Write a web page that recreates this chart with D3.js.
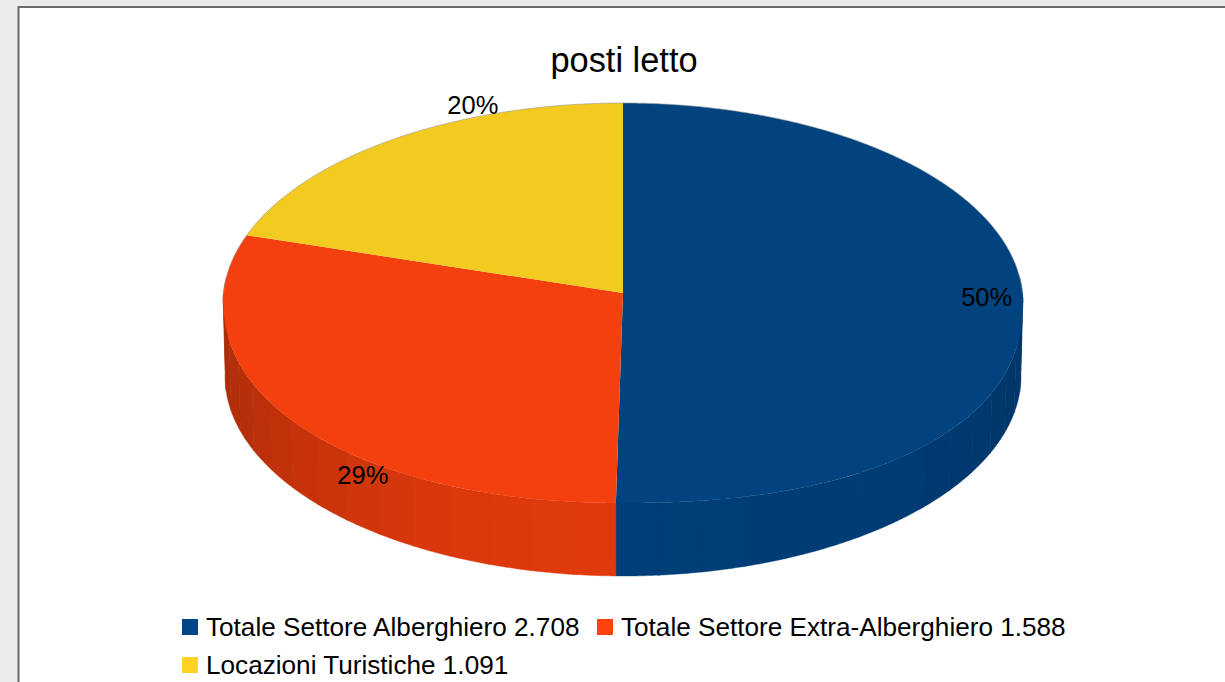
<!DOCTYPE html>
<html><head><meta charset="utf-8">
<script src="https://cdnjs.cloudflare.com/ajax/libs/d3/7.8.5/d3.min.js"></script>
<style>html,body{margin:0;padding:0;background:#ebebeb;overflow:hidden}svg{display:block}text{font-family:"Liberation Sans",Arial,sans-serif;fill:#000}</style>
</head><body><svg id="c" width="1225" height="682"></svg>
<script>
const categories=["Totale Settore Alberghiero 2.708","Totale Settore Extra-Alberghiero 1.588","Locazioni Turistiche 1.091"];
const values=[2708,1588,1091];
const percentLabels=["50%","29%","20%"];
const title="posti letto";
const topColors=["#01437f","#f4400e","#f2ca20"];
const legendColors=["#004586","#ff420e","#ffd320"];

const svg=d3.select("#c");
svg.append("rect").attr("x",18).attr("y",6).attr("width",1207).attr("height",676).attr("fill","#fff");
svg.append("path").attr("d","M18.5,682V7H1225").attr("fill","none").attr("stroke","#6a6a6a").attr("stroke-width",2);

// perspective disc -> screen
const sx=d3.scaleLinear().domain([-1,1]).range([223.5,1022.5]);
const sy=d3.scaleLinear().domain([-1,1]).range([103,503]);
const persp=-0.05, cy0=-0.05;
function project(a,depth){
  const u=Math.sin(a),v=-Math.cos(a),w=1+persp*v;
  const k=depth?0.995:1;
  const px=u/w*k;
  let py=(v+cy0)/w;
  if(!depth&&py>0){
    const e=Math.min(1,Math.abs(px));
    const p=px>0?2.25:2.1;
    py=Math.pow(1-Math.pow(e,p),1/p);
  }
  return [sx(px),sy(py)+(depth?73:0)];
}
function apex(){return [sx(0),sy(cy0)];}
const arcs=d3.pie().sort(null).value(d=>d)(values);
const line=d3.line();
const sample=(a0,a1,step)=>{const n=Math.max(1,Math.ceil((a1-a0)/step));return d3.range(n+1).map(i=>a0+(a1-a0)*i/n);};

// side wall, drawn as shaded facets
const wallStep=Math.PI/30;
const base=legendColors;
arcs.forEach((s,i)=>{
  const a0=Math.max(s.startAngle,Math.PI/2-0.08), a1=Math.min(s.endAngle,3*Math.PI/2+0.08);
  if(a1<=a0) return;
  const t=sample(a0,a1,wallStep);
  for(let j=0;j<t.length-1;j++){
    const m=(t[j]+t[j+1])/2;
    const low=m<Math.PI?0.78:0.67;
    const high=m<Math.PI?0.9:0.88;
    const f=low+(high-low)*Math.abs(Math.cos(m))**1.5;
    const c=d3.rgb(base[i]);
    const col=d3.rgb(c.r*f,c.g*f,c.b*f);
    const pts=sample(t[j],t[j+1]+0.002,0.01);
    const path=[...pts.map(a=>project(a,false)),...pts.slice().reverse().map(a=>project(a,true))];
    svg.append("path").attr("d",line(path)+"Z").attr("fill",col.formatHex()).attr("stroke",col.formatHex()).attr("stroke-width",0.4);
  }
});
// top face
arcs.forEach((s,i)=>{
  const pts=sample(s.startAngle,s.endAngle,0.005).map(a=>project(a,false));
  svg.append("path").attr("d",line([apex(),...pts])+"Z").attr("fill",topColors[i]);
});
// thin grey back edge
svg.append("path").attr("d",line(sample(-Math.PI/2,Math.PI/2,0.01).map(a=>project(a,false))))
  .attr("fill","none").attr("stroke","#9a9a9a").attr("stroke-width",0.6);

// labels, anchored to the rim at each slice's mid angle
const labelShift=[[-36,2],[73,61],[78,-34]];
arcs.forEach((s,i)=>{
  const a=(s.startAngle+s.endAngle)/2;
  const p=[sx(Math.sin(a)/(1-persp*Math.cos(a))),sy((-Math.cos(a)+cy0)/(1-persp*Math.cos(a)))];
  svg.append("text").attr("x",p[0]+labelShift[i][0]).attr("y",p[1]+labelShift[i][1]+9)
    .attr("text-anchor","middle").attr("font-size",25.5).text(percentLabels[i]);
});
svg.append("text").attr("x",624).attr("y",71.7).attr("text-anchor","middle").attr("font-size",34.4).text(title);

// legend
const legendPos=[[182,636],[597,636],[182,674]];
categories.forEach((c,i)=>{
  const [x,y]=legendPos[i];
  svg.append("rect").attr("x",x).attr("y",y-17).attr("width",16).attr("height",16).attr("fill",legendColors[i]);
  svg.append("text").attr("x",x+24).attr("y",y).attr("font-size",26.15).text(c);
});
</script></body></html>
